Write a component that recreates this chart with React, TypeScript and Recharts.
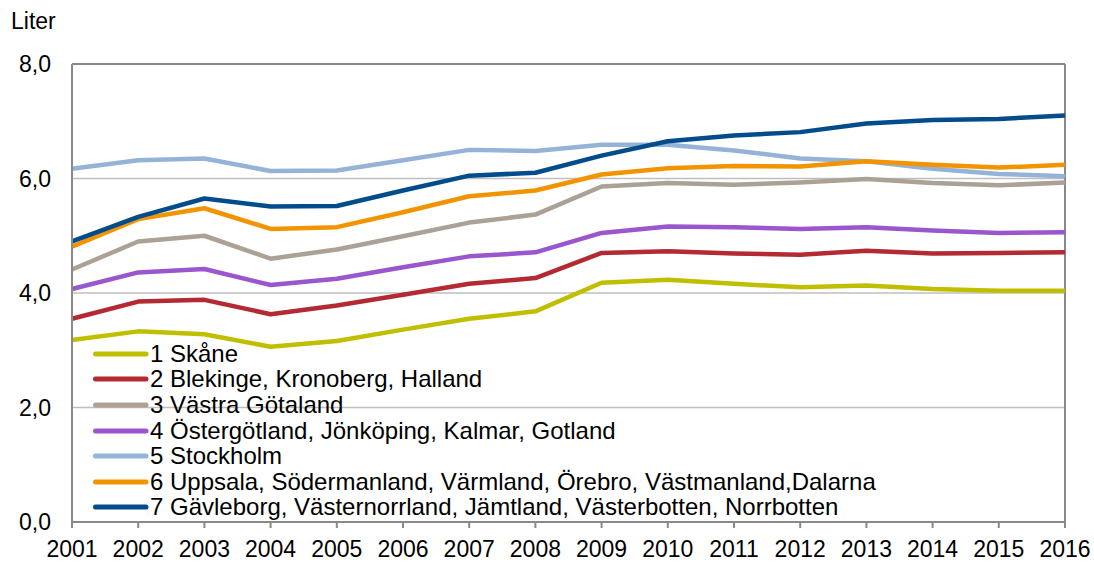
import { LineChart, Line, XAxis, YAxis, CartesianGrid, ReferenceLine, Legend } from 'recharts';

const years = [2001, 2002, 2003, 2004, 2005, 2006, 2007, 2008, 2009, 2010, 2011, 2012, 2013, 2014, 2015, 2016];

const skane = [3.18, 3.33, 3.28, 3.06, 3.16, 3.36, 3.55, 3.68, 4.18, 4.23, 4.16, 4.10, 4.13, 4.07, 4.04, 4.04];
const blekinge = [3.55, 3.85, 3.88, 3.63, 3.78, 3.97, 4.16, 4.26, 4.70, 4.73, 4.69, 4.67, 4.74, 4.69, 4.70, 4.71];
const vastraGotaland = [4.41, 4.90, 5.00, 4.60, 4.76, 4.99, 5.23, 5.37, 5.86, 5.92, 5.89, 5.93, 5.99, 5.92, 5.88, 5.93];
const ostergotland = [4.07, 4.36, 4.42, 4.14, 4.25, 4.45, 4.64, 4.71, 5.05, 5.16, 5.15, 5.12, 5.15, 5.09, 5.05, 5.06];
const stockholm = [6.17, 6.32, 6.35, 6.13, 6.14, 6.32, 6.50, 6.48, 6.59, 6.59, 6.49, 6.35, 6.30, 6.17, 6.08, 6.04];
const uppsala = [4.81, 5.29, 5.48, 5.12, 5.15, 5.41, 5.69, 5.79, 6.07, 6.18, 6.22, 6.21, 6.30, 6.24, 6.19, 6.24];
const gavleborg = [4.90, 5.33, 5.65, 5.51, 5.52, 5.79, 6.05, 6.10, 6.40, 6.65, 6.75, 6.81, 6.96, 7.02, 7.04, 7.10];

const seriesNames = [
  '1 Skåne',
  '2 Blekinge, Kronoberg, Halland',
  '3 Västra Götaland',
  '4 Östergötland, Jönköping, Kalmar, Gotland',
  '5 Stockholm',
  '6 Uppsala, Södermanland, Värmland, Örebro, Västmanland,Dalarna',
  '7 Gävleborg, Västernorrland, Jämtland, Västerbotten, Norrbotten',
];
const seriesColors = ['#BFBF00', '#B32A33', '#ABA196', '#9A57CD', '#95B3D7', '#F29400', '#034C8C'];
const seriesValues = [skane, blekinge, vastraGotaland, ostergotland, stockholm, uppsala, gavleborg];
const yTicks = [0, 2, 4, 6, 8];

const data = years.map((year, i) => {
  const row: Record<string, number> = { year };
  seriesValues.forEach((vals, s) => {
    row['s' + s] = vals[i];
  });
  return row;
});

const FONT = '"Liberation Sans", Arial, sans-serif';
const AXIS = '#898989';

function renderLegend(props: any) {
  const payload = props.payload || [];
  return (
    <div style={{ fontFamily: FONT, fontSize: 24, color: '#000' }}>
      {payload.map((entry: any) => (
        <div key={entry.value} style={{ display: 'flex', alignItems: 'center', height: 25.6, whiteSpace: 'nowrap' }}>
          <svg width={60} height={10}>
            <line x1={5.5} y1={5} x2={56} y2={5} stroke={entry.color} strokeWidth={5} strokeLinecap="round" />
          </svg>
          <span>{entry.value}</span>
        </div>
      ))}
    </div>
  );
}

export default function App() {
  return (
    <div style={{ position: 'absolute', left: 0, top: 0, width: 1094, height: 562, background: '#fff', fontFamily: FONT }}>
      <div style={{ position: 'absolute', left: 11, top: 8, fontSize: 23, color: '#000' }}>Liter</div>
      <LineChart
        width={1094}
        height={562}
        data={data}
        margin={{ top: 64, right: 29, bottom: 10, left: 0 }}
      >
        <CartesianGrid vertical={false} stroke="#BFBFBF" strokeWidth={1.5} />
        <XAxis
          dataKey="year"
          type="number"
          domain={[2001, 2016]}
          ticks={years}
          interval={0}
          height={30}
          axisLine={{ stroke: AXIS, strokeWidth: 2 }}
          tickLine={{ stroke: AXIS, strokeWidth: 2 }}
          tickSize={6}
          tickMargin={13}
          tick={{ fill: '#000', fontSize: 23, fontFamily: FONT }}
        />
        <YAxis
          domain={[0, 8]}
          ticks={yTicks}
          width={72}
          axisLine={{ stroke: AXIS, strokeWidth: 2 }}
          tickLine={false}
          tickSize={6}
          tickMargin={15}
          tick={{ fill: '#000', fontSize: 23, fontFamily: FONT }}
          tickFormatter={(v: number) => v.toFixed(1).replace('.', ',')}
        />
        <ReferenceLine y={8} stroke={AXIS} strokeWidth={2} />
        <ReferenceLine x={2016} stroke={AXIS} strokeWidth={2} />
        {seriesValues.map((_, s) => (
          <Line
            key={s}
            type="linear"
            dataKey={'s' + s}
            name={seriesNames[s]}
            stroke={seriesColors[s]}
            strokeWidth={4.5}
            strokeLinejoin="round"
            dot={false}
            activeDot={false}
            isAnimationActive={false}
          />
        ))}
        <Legend
          layout="horizontal"
          align="center"
          verticalAlign="middle"
          content={renderLegend}
          wrapperStyle={{ left: 90, top: 341, width: 'auto', height: 'auto' }}
        />
      </LineChart>
    </div>
  );
}
